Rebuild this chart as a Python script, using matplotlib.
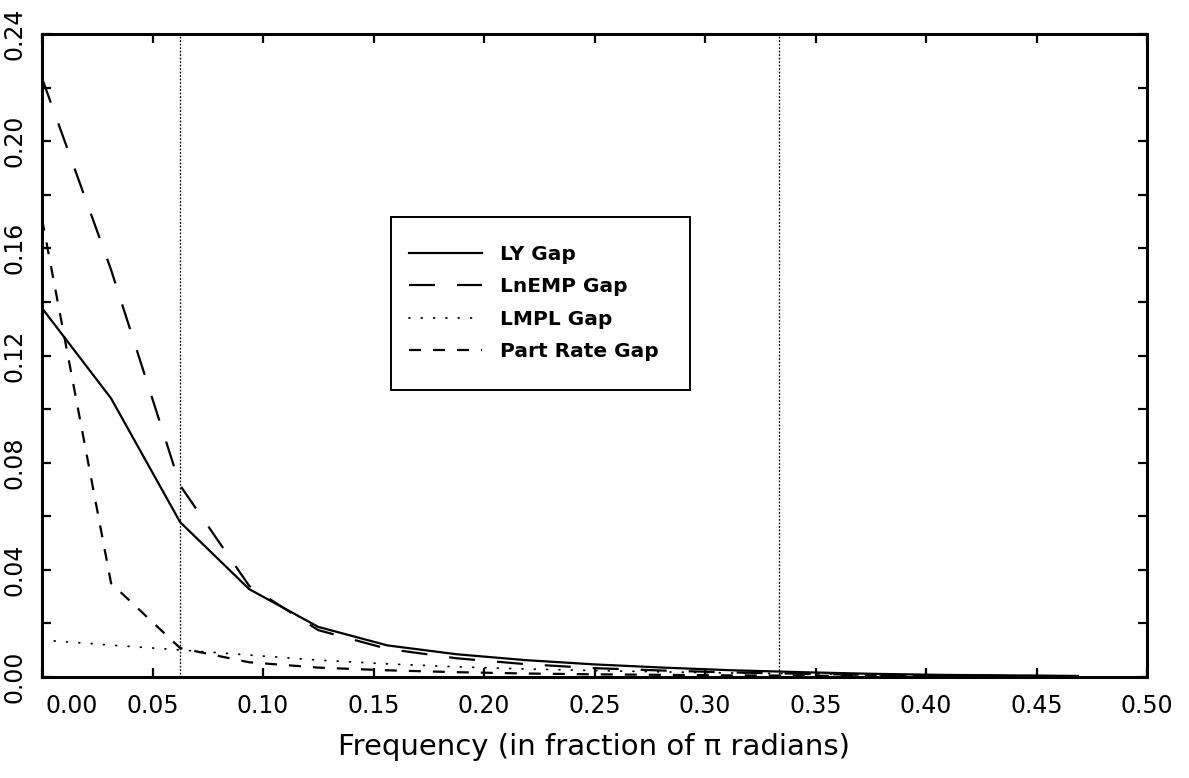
import matplotlib
matplotlib.use("Agg")
import matplotlib.pyplot as plt
from matplotlib.patches import Rectangle
from matplotlib.ticker import FixedLocator, FixedFormatter

# Spectral density of each gap series, at frequencies k/32 (fraction of pi)
freq = [0.0, 0.03125, 0.0625, 0.09375, 0.125, 0.15625, 0.1875, 0.21875,
        0.25, 0.28125, 0.3125, 0.34375, 0.375, 0.40625, 0.4375, 0.46875]
ly_gap = [0.1377, 0.1040, 0.0578, 0.0328, 0.0187, 0.0118, 0.0085, 0.0063,
          0.0047, 0.0035, 0.0025, 0.0018, 0.0012, 0.0008, 0.0006, 0.0004]
lnemp_gap = [0.2235, 0.1520, 0.0715, 0.0340, 0.0175, 0.0105, 0.0070, 0.0048,
             0.0033, 0.0024, 0.0017, 0.0012, 0.0008, 0.0006, 0.0004, 0.0003]
lmpl_gap = [0.0138, 0.0119, 0.0101, 0.0082, 0.0063, 0.0049, 0.0038, 0.0030,
            0.0024, 0.0019, 0.0015, 0.0012, 0.0009, 0.0007, 0.0005, 0.0004]
part_rate_gap = [0.1710, 0.0350, 0.0108, 0.0055, 0.0035, 0.0025, 0.0018, 0.0013,
                 0.0010, 0.0008, 0.0006, 0.0005, 0.0004, 0.0003, 0.0002, 0.0002]

# Business-cycle band edges (32 and 6 quarter periods)
band_edges = [0.0625, 0.3333]

x_ticks = [0.00, 0.05, 0.10, 0.15, 0.20, 0.25, 0.30, 0.35, 0.40, 0.45, 0.50]
x_tick_labels = ["0.00", "0.05", "0.10", "0.15", "0.20", "0.25", "0.30",
                 "0.35", "0.40", "0.45", "0.50"]
y_major = [0.00, 0.04, 0.08, 0.12, 0.16, 0.20, 0.24]
y_major_labels = ["0.00", "0.04", "0.08", "0.12", "0.16", "0.20", "0.24"]
y_minor = [0.02, 0.06, 0.10, 0.14, 0.18, 0.22]

plt.rcParams["lines.scale_dashes"] = False
plt.rcParams["font.family"] = "DejaVu Sans"

W, H = 1189, 778
PX = 0.72  # points per pixel at 100 dpi

fig = plt.figure(figsize=(W / 100, H / 100), dpi=100)
ax = fig.add_axes([42 / W, 1 - 677 / H, (1147 - 42) / W, (677 - 34) / H])

ax.plot(freq, ly_gap, color="black", lw=1.6, label="LY Gap")
ax.plot(freq, lnemp_gap, color="black", lw=1.6, dashes=(26 * PX, 22 * PX),
        label="LnEMP Gap")
ax.plot(freq, lmpl_gap, color="black", lw=1.3, dashes=(0.6, 11.5 * PX),
        dash_capstyle="round", label="LMPL Gap")
ax.plot(freq, part_rate_gap, color="black", lw=1.6, dashes=(12 * PX, 12 * PX),
        label="Part Rate Gap")

for b in band_edges:
    ax.axvline(b, color="black", lw=1.0, dashes=(0.5, 2.8 * PX),
               dash_capstyle="round")

ax.set_xlim(0.0, 0.5)
ax.set_ylim(0.0, 0.24)

# x ticks; the label at zero is drawn separately, nudged right
ax.xaxis.set_major_locator(FixedLocator(x_ticks))
ax.xaxis.set_major_formatter(FixedFormatter([""] + x_tick_labels[1:]))
ax.yaxis.set_major_locator(FixedLocator(y_major))
ax.yaxis.set_major_formatter(FixedFormatter(y_major_labels))
ax.yaxis.set_minor_locator(FixedLocator(y_minor))

ax.tick_params(which="both", direction="in", length=6.5, width=1.6,
               top=True, right=True, labelsize=17, color="black")
ax.tick_params(axis="x", pad=12)
ax.tick_params(axis="y", pad=11)
for lab in ax.get_yticklabels():
    lab.set_rotation(90)
    lab.set_va("center")

ax.annotate(x_tick_labels[0], xy=(x_ticks[0], 0), xycoords="data",
            xytext=(30 * PX, -12), textcoords="offset points",
            ha="center", va="top", fontsize=17)

for s in ax.spines.values():
    s.set_linewidth(2.2)

ax.set_xlabel("Frequency (in fraction of π radians)", fontsize=21,
              labelpad=11)

# Legend box drawn as its own frame, entries placed inside it
ax.add_patch(Rectangle((391 / W, 1 - 390 / H), 299 / W, 173 / H,
                       transform=fig.transFigure, facecolor="white",
                       edgecolor="black", lw=1.4, clip_on=False, zorder=4))
leg = ax.legend(loc="upper left", bbox_to_anchor=(409 / W, 1 - 245 / H),
                bbox_transform=fig.transFigure, frameon=False,
                borderaxespad=0, borderpad=0,
                prop={"weight": "bold", "size": 14.5},
                handlelength=3.63, handletextpad=0.9, labelspacing=0.67)
leg.set_zorder(5)

fig.savefig("out.png", dpi=100, facecolor="white")
